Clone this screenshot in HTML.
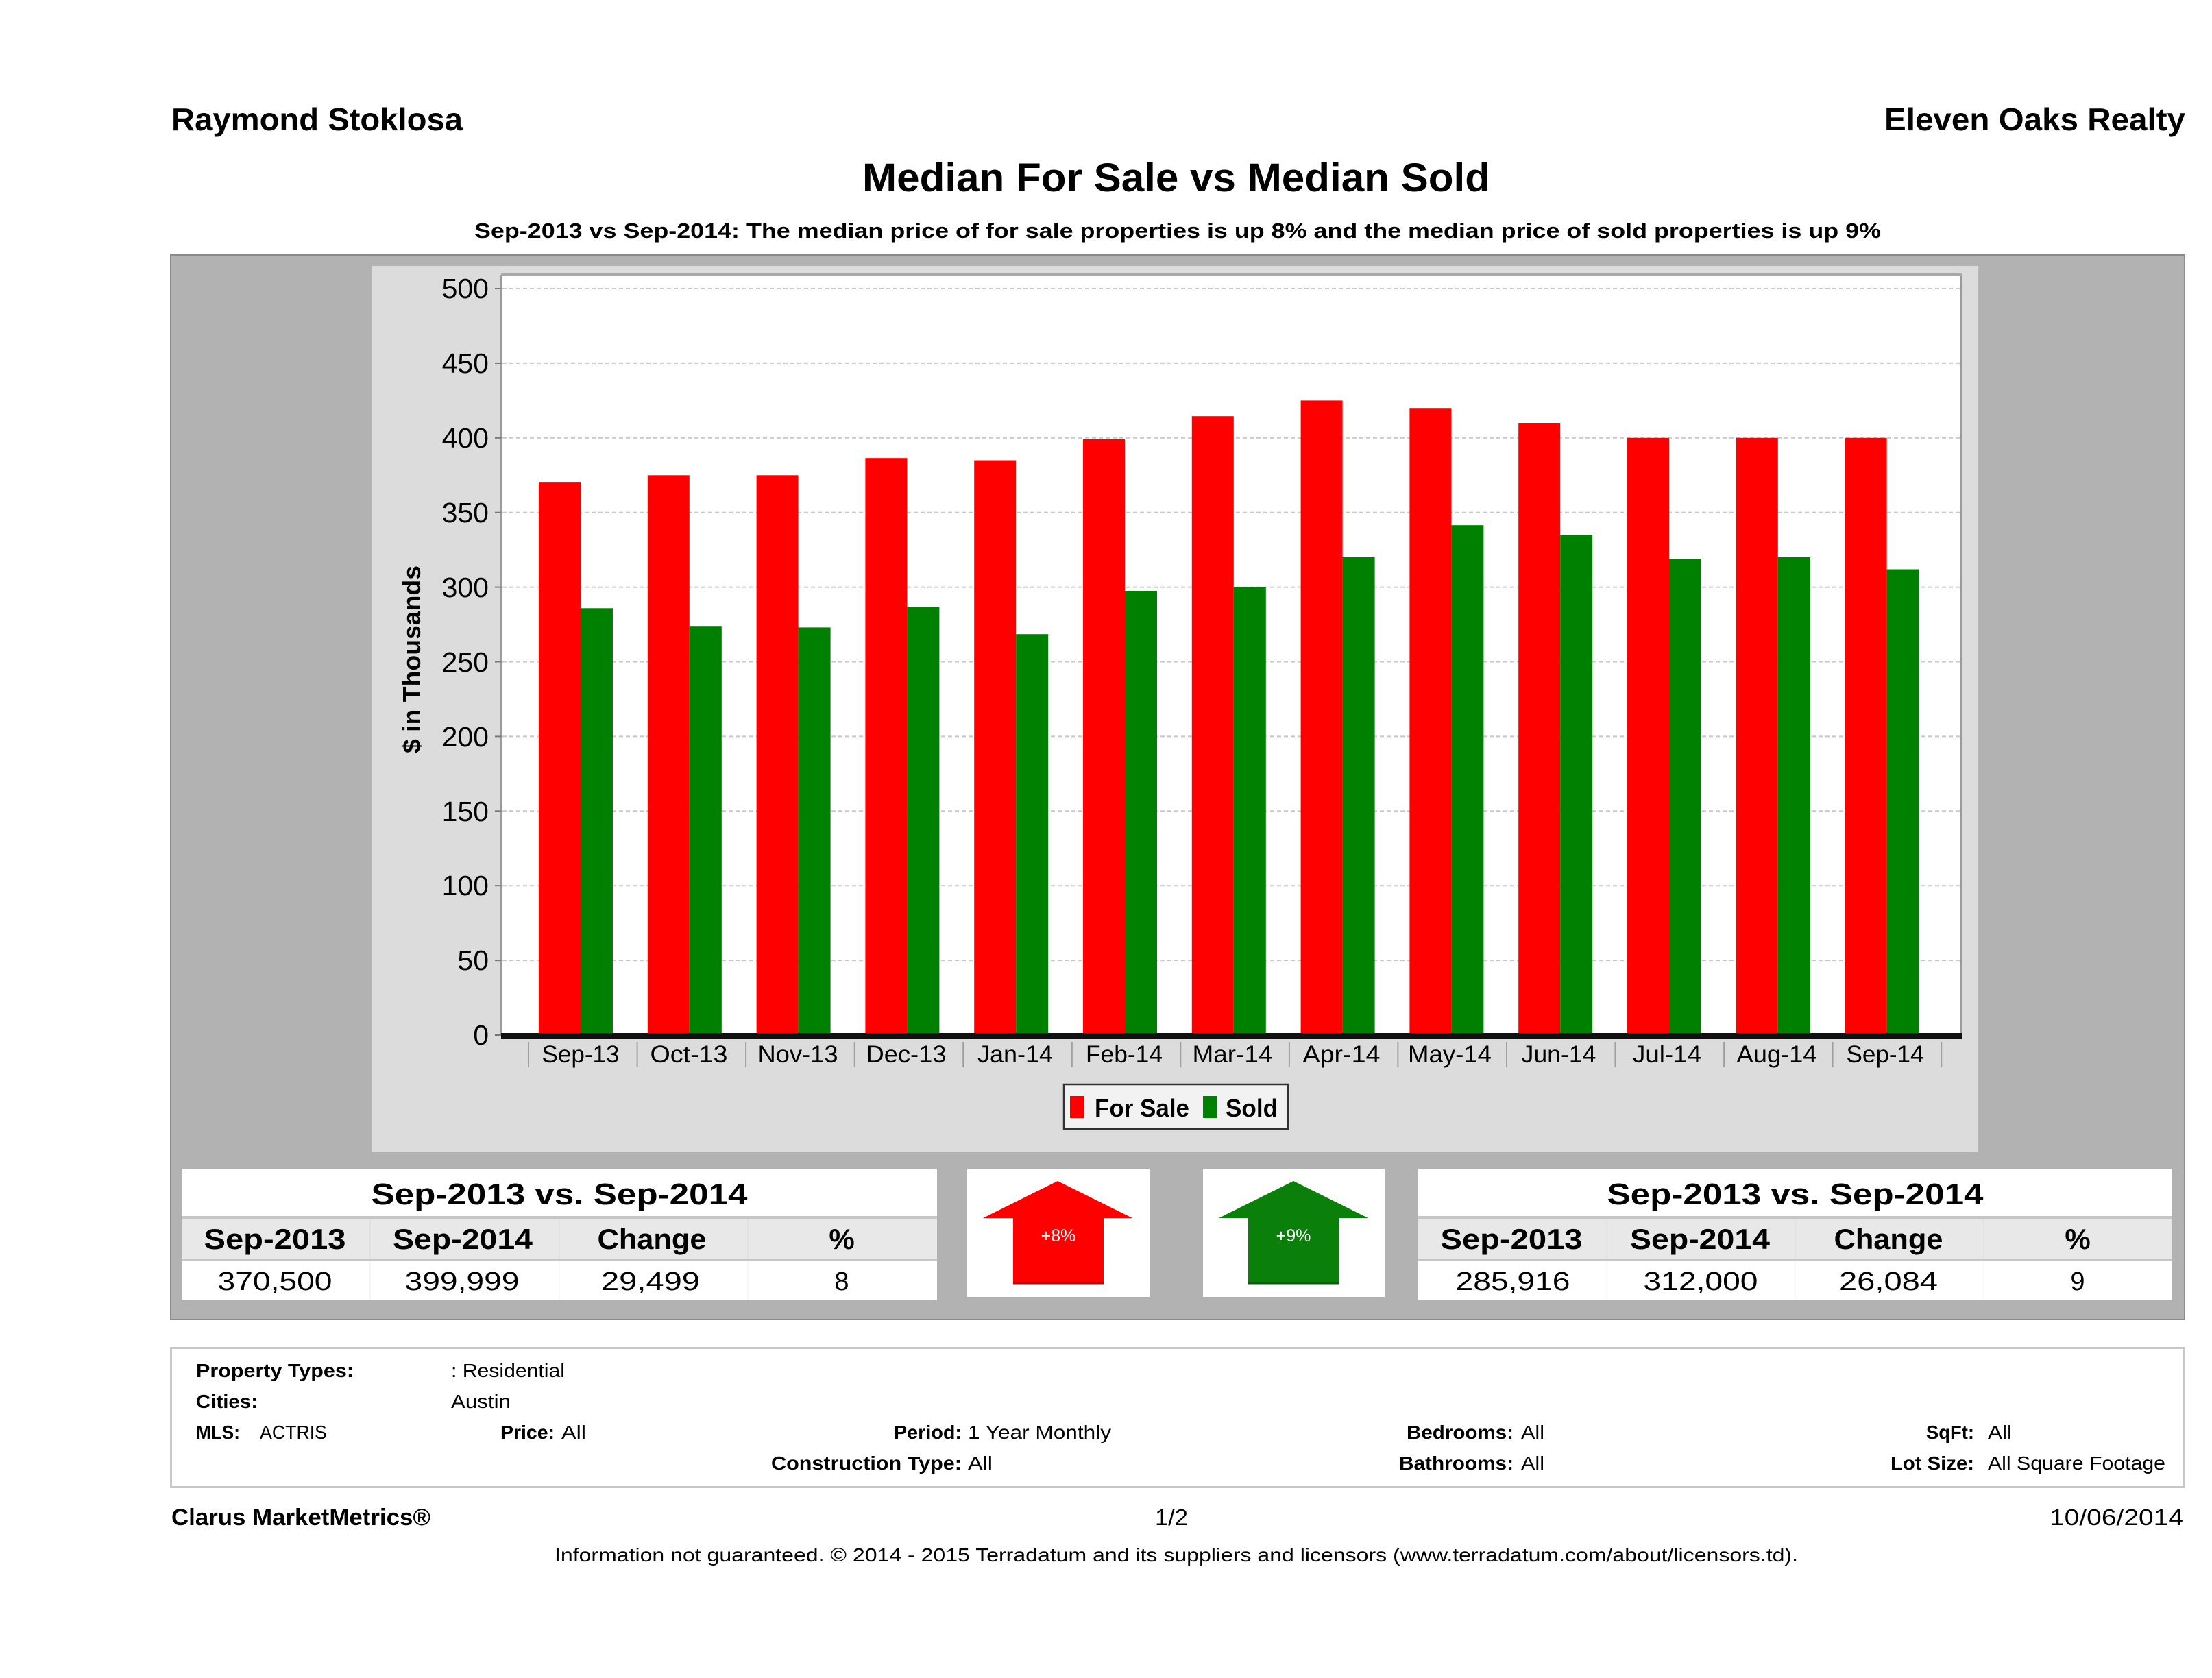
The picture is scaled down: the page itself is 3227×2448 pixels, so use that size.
<!DOCTYPE html>
<html>
<head>
<meta charset="utf-8">
<style>
html,body{margin:0;padding:0;background:#fff;}
svg{display:block;}
text{font-family:"Liberation Sans",Arial,sans-serif;fill:#000;}
.b{font-weight:bold;}
</style>
</head>
<body>
<svg width="3227" height="2448" viewBox="0 0 3227 2448" xmlns="http://www.w3.org/2000/svg">
<rect x="0" y="0" width="3227" height="2448" fill="#ffffff"/>

<!-- Header -->
<text class="b" x="250" y="190" font-size="46" textLength="425" lengthAdjust="spacingAndGlyphs">Raymond Stoklosa</text>
<text class="b" x="2749" y="190" font-size="46" textLength="439" lengthAdjust="spacingAndGlyphs">Eleven Oaks Realty</text>
<text class="b" x="1258" y="279" font-size="58" textLength="916" lengthAdjust="spacingAndGlyphs">Median For Sale vs Median Sold</text>
<text class="b" x="692" y="347" font-size="31" textLength="2052" lengthAdjust="spacingAndGlyphs">Sep-2013 vs Sep-2014: The median price of for sale properties is up 8% and the median price of sold properties is up 9%</text>

<!-- Outer gray panel -->
<rect x="249" y="372" width="2938" height="1553" fill="#b2b2b2" stroke="#8a8a8a" stroke-width="2"/>
<!-- Inner light panel -->
<rect x="543" y="388" width="2342" height="1293" fill="#dcdcdc"/>
<!-- Plot area -->
<rect x="731" y="402" width="2130" height="1108" fill="#ffffff" stroke="#9a9a9a" stroke-width="2"/>
<line x1="731" y1="401" x2="2862" y2="401" stroke="#a8a8a8" stroke-width="4"/>

<!-- Gridlines -->
<g stroke="#c8c8c8" stroke-width="2" stroke-dasharray="6 4">
<line x1="733" y1="421" x2="2859" y2="421"/>
<line x1="733" y1="529.9" x2="2859" y2="529.9"/>
<line x1="733" y1="638.8" x2="2859" y2="638.8"/>
<line x1="733" y1="747.7" x2="2859" y2="747.7"/>
<line x1="733" y1="856.6" x2="2859" y2="856.6"/>
<line x1="733" y1="965.5" x2="2859" y2="965.5"/>
<line x1="733" y1="1074.4" x2="2859" y2="1074.4"/>
<line x1="733" y1="1183.3" x2="2859" y2="1183.3"/>
<line x1="733" y1="1292.2" x2="2859" y2="1292.2"/>
<line x1="733" y1="1401.1" x2="2859" y2="1401.1"/>
</g>
<!-- Y ticks -->
<g stroke="#777" stroke-width="2">
<line x1="722" y1="421" x2="731" y2="421"/>
<line x1="722" y1="529.9" x2="731" y2="529.9"/>
<line x1="722" y1="638.8" x2="731" y2="638.8"/>
<line x1="722" y1="747.7" x2="731" y2="747.7"/>
<line x1="722" y1="856.6" x2="731" y2="856.6"/>
<line x1="722" y1="965.5" x2="731" y2="965.5"/>
<line x1="722" y1="1074.4" x2="731" y2="1074.4"/>
<line x1="722" y1="1183.3" x2="731" y2="1183.3"/>
<line x1="722" y1="1292.2" x2="731" y2="1292.2"/>
<line x1="722" y1="1401.1" x2="731" y2="1401.1"/>
<line x1="722" y1="1510" x2="731" y2="1510"/>
</g>
<!-- Y labels -->
<g font-size="41" text-anchor="end">
<text x="713" y="435">500</text>
<text x="713" y="544">450</text>
<text x="713" y="653">400</text>
<text x="713" y="762">350</text>
<text x="713" y="871">300</text>
<text x="713" y="980">250</text>
<text x="713" y="1089">200</text>
<text x="713" y="1198">150</text>
<text x="713" y="1306">100</text>
<text x="713" y="1415">50</text>
<text x="713" y="1524">0</text>
</g>
<!-- Y title -->
<text class="b" transform="translate(613,962) rotate(-90)" x="0" y="0" font-size="36" text-anchor="middle" textLength="274" lengthAdjust="spacingAndGlyphs">$ in Thousands</text>

<!-- Bars: For Sale (red) -->
<g fill="#ff0000">
<rect x="786" y="703.1" width="61" height="806.9"/>
<rect x="944.8" y="693.3" width="61" height="816.7"/>
<rect x="1103.6" y="693.3" width="61" height="816.7"/>
<rect x="1262.4" y="668.2" width="61" height="841.8"/>
<rect x="1421.2" y="671.5" width="61" height="838.5"/>
<rect x="1580" y="641.0" width="61" height="869"/>
<rect x="1738.8" y="607.2" width="61" height="902.8"/>
<rect x="1897.6" y="584.4" width="61" height="925.6"/>
<rect x="2056.4" y="595.2" width="61" height="914.8"/>
<rect x="2215.2" y="617.0" width="61" height="893"/>
<rect x="2374" y="638.8" width="61" height="871.2"/>
<rect x="2532.8" y="638.8" width="61" height="871.2"/>
<rect x="2691.6" y="638.8" width="61" height="871.2"/>
</g>
<!-- Bars: Sold (green) -->
<g fill="#008000">
<rect x="847" y="887.3" width="47" height="622.7"/>
<rect x="1005.8" y="913.2" width="47" height="596.8"/>
<rect x="1164.6" y="915.4" width="47" height="594.6"/>
<rect x="1323.4" y="886.0" width="47" height="624"/>
<rect x="1482.2" y="925.2" width="47" height="584.8"/>
<rect x="1641" y="862.0" width="47" height="648"/>
<rect x="1799.8" y="856.6" width="47" height="653.4"/>
<rect x="1958.6" y="813.0" width="47" height="697"/>
<rect x="2117.4" y="766.2" width="47" height="743.8"/>
<rect x="2276.2" y="780.4" width="47" height="729.6"/>
<rect x="2435" y="815.2" width="47" height="694.8"/>
<rect x="2593.8" y="813.0" width="47" height="697"/>
<rect x="2752.6" y="830.5" width="47" height="679.5"/>
</g>

<!-- X axis thick line -->
<rect x="731" y="1507" width="2131" height="9" fill="#111"/>
<!-- X tick separators -->
<g stroke="#a0a0a0" stroke-width="2">
<line x1="771" y1="1520" x2="771" y2="1557"/>
<line x1="929.6" y1="1520" x2="929.6" y2="1557"/>
<line x1="1088.1" y1="1520" x2="1088.1" y2="1557"/>
<line x1="1246.7" y1="1520" x2="1246.7" y2="1557"/>
<line x1="1405.2" y1="1520" x2="1405.2" y2="1557"/>
<line x1="1563.8" y1="1520" x2="1563.8" y2="1557"/>
<line x1="1722.3" y1="1520" x2="1722.3" y2="1557"/>
<line x1="1880.9" y1="1520" x2="1880.9" y2="1557"/>
<line x1="2039.4" y1="1520" x2="2039.4" y2="1557"/>
<line x1="2198" y1="1520" x2="2198" y2="1557"/>
<line x1="2356.5" y1="1520" x2="2356.5" y2="1557"/>
<line x1="2515.1" y1="1520" x2="2515.1" y2="1557"/>
<line x1="2673.6" y1="1520" x2="2673.6" y2="1557"/>
<line x1="2832.2" y1="1520" x2="2832.2" y2="1557"/>
</g>
<!-- X labels -->
<g font-size="35" text-anchor="middle">
<text x="847" y="1550" textLength="113" lengthAdjust="spacingAndGlyphs">Sep-13</text>
<text x="1005" y="1550" textLength="113" lengthAdjust="spacingAndGlyphs">Oct-13</text>
<text x="1164" y="1550" textLength="117" lengthAdjust="spacingAndGlyphs">Nov-13</text>
<text x="1322" y="1550" textLength="117" lengthAdjust="spacingAndGlyphs">Dec-13</text>
<text x="1481" y="1550" textLength="110" lengthAdjust="spacingAndGlyphs">Jan-14</text>
<text x="1640" y="1550" textLength="112" lengthAdjust="spacingAndGlyphs">Feb-14</text>
<text x="1798" y="1550" textLength="117" lengthAdjust="spacingAndGlyphs">Mar-14</text>
<text x="1957" y="1550" textLength="113" lengthAdjust="spacingAndGlyphs">Apr-14</text>
<text x="2115" y="1550" textLength="122" lengthAdjust="spacingAndGlyphs">May-14</text>
<text x="2274" y="1550" textLength="109" lengthAdjust="spacingAndGlyphs">Jun-14</text>
<text x="2432" y="1550" textLength="100" lengthAdjust="spacingAndGlyphs">Jul-14</text>
<text x="2592" y="1550" textLength="117" lengthAdjust="spacingAndGlyphs">Aug-14</text>
<text x="2750" y="1550" textLength="113" lengthAdjust="spacingAndGlyphs">Sep-14</text>
</g>

<!-- Legend -->
<rect x="1552" y="1582" width="327" height="65" fill="#f2f2f2" stroke="#333" stroke-width="2.5"/>
<rect x="1561" y="1599" width="20" height="32" fill="#ff0000"/>
<text class="b" x="1597" y="1629" font-size="36" textLength="138" lengthAdjust="spacingAndGlyphs">For Sale</text>
<rect x="1755" y="1599" width="21" height="32" fill="#008000"/>
<text class="b" x="1788" y="1629" font-size="36" textLength="76" lengthAdjust="spacingAndGlyphs">Sold</text>

<!-- Left stats table -->
<rect x="265" y="1705" width="1102" height="192" fill="#c6c6c6"/>
<rect x="265" y="1705" width="1102" height="69" fill="#ffffff"/>
<rect x="265" y="1778" width="1102" height="58" fill="#e8e8e8"/>
<rect x="265" y="1840" width="1102" height="57" fill="#ffffff"/>
<g stroke="#dadada" stroke-width="1">
<line x1="540" y1="1778" x2="540" y2="1836"/><line x1="816" y1="1778" x2="816" y2="1836"/><line x1="1091" y1="1778" x2="1091" y2="1836"/>
</g>
<g stroke="#f0f0f0" stroke-width="1">
<line x1="540" y1="1840" x2="540" y2="1897"/><line x1="816" y1="1840" x2="816" y2="1897"/><line x1="1091" y1="1840" x2="1091" y2="1897"/>
</g>
<text class="b" x="816" y="1757" font-size="44" text-anchor="middle" textLength="549" lengthAdjust="spacingAndGlyphs">Sep-2013 vs. Sep-2014</text>
<g class="b" font-size="42" text-anchor="middle" font-weight="bold">
<text x="401" y="1822" textLength="207" lengthAdjust="spacingAndGlyphs">Sep-2013</text>
<text x="675" y="1822" textLength="204" lengthAdjust="spacingAndGlyphs">Sep-2014</text>
<text x="951" y="1822" textLength="159" lengthAdjust="spacingAndGlyphs">Change</text>
<text x="1228" y="1822">%</text>
</g>
<g font-size="38" text-anchor="middle">
<text x="401" y="1882" textLength="167" lengthAdjust="spacingAndGlyphs">370,500</text>
<text x="674" y="1882" textLength="167" lengthAdjust="spacingAndGlyphs">399,999</text>
<text x="949" y="1882" textLength="144" lengthAdjust="spacingAndGlyphs">29,499</text>
<text x="1228" y="1882">8</text>
</g>

<!-- Arrow boxes -->
<rect x="1411" y="1705" width="266" height="187" fill="#ffffff"/>
<polygon points="1543,1723 1652,1777 1610,1777 1610,1873 1478,1873 1478,1777 1434,1777" fill="#ff0000"/>
<line x1="1478" y1="1872" x2="1610" y2="1872" stroke="#c00000" stroke-width="3"/>
<text x="1544" y="1811" font-size="25" fill="#ffffff" text-anchor="middle" style="fill:#ffffff">+8%</text>

<rect x="1755" y="1705" width="265" height="187" fill="#ffffff"/>
<polygon points="1887,1723 1996,1777 1953,1777 1953,1873 1821,1873 1821,1777 1778,1777" fill="#0a800a"/>
<line x1="1821" y1="1872" x2="1953" y2="1872" stroke="#056005" stroke-width="3"/>
<text x="1887" y="1811" font-size="25" text-anchor="middle" style="fill:#ffffff">+9%</text>

<!-- Right stats table -->
<rect x="2069" y="1705" width="1100" height="192" fill="#c6c6c6"/>
<rect x="2069" y="1705" width="1100" height="69" fill="#ffffff"/>
<rect x="2069" y="1778" width="1100" height="58" fill="#e8e8e8"/>
<rect x="2069" y="1840" width="1100" height="57" fill="#ffffff"/>
<g stroke="#dadada" stroke-width="1">
<line x1="2344" y1="1778" x2="2344" y2="1836"/><line x1="2619" y1="1778" x2="2619" y2="1836"/><line x1="2894" y1="1778" x2="2894" y2="1836"/>
</g>
<g stroke="#f0f0f0" stroke-width="1">
<line x1="2344" y1="1840" x2="2344" y2="1897"/><line x1="2619" y1="1840" x2="2619" y2="1897"/><line x1="2894" y1="1840" x2="2894" y2="1897"/>
</g>
<text class="b" x="2619" y="1757" font-size="44" text-anchor="middle" textLength="549" lengthAdjust="spacingAndGlyphs">Sep-2013 vs. Sep-2014</text>
<g class="b" font-size="42" text-anchor="middle" font-weight="bold">
<text x="2205" y="1822" textLength="207" lengthAdjust="spacingAndGlyphs">Sep-2013</text>
<text x="2480" y="1822" textLength="204" lengthAdjust="spacingAndGlyphs">Sep-2014</text>
<text x="2755" y="1822" textLength="159" lengthAdjust="spacingAndGlyphs">Change</text>
<text x="3031" y="1822">%</text>
</g>
<g font-size="38" text-anchor="middle">
<text x="2207" y="1882" textLength="167" lengthAdjust="spacingAndGlyphs">285,916</text>
<text x="2481" y="1882" textLength="167" lengthAdjust="spacingAndGlyphs">312,000</text>
<text x="2755" y="1882" textLength="144" lengthAdjust="spacingAndGlyphs">26,084</text>
<text x="3031" y="1882">9</text>
</g>

<!-- Info box -->
<rect x="249.5" y="1966.5" width="2937" height="203" fill="#ffffff" stroke="#c8c8c8" stroke-width="3"/>
<g font-size="28">
<text class="b" x="286" y="2009" textLength="230" lengthAdjust="spacingAndGlyphs">Property Types:</text>
<text x="658" y="2009" textLength="166" lengthAdjust="spacingAndGlyphs">: Residential</text>
<text class="b" x="286" y="2054" textLength="90" lengthAdjust="spacingAndGlyphs">Cities:</text>
<text x="658" y="2054" textLength="87" lengthAdjust="spacingAndGlyphs">Austin</text>
<text class="b" x="286" y="2099" textLength="64" lengthAdjust="spacingAndGlyphs">MLS:</text>
<text x="379" y="2099" textLength="98" lengthAdjust="spacingAndGlyphs">ACTRIS</text>
<text class="b" x="730" y="2099" textLength="79" lengthAdjust="spacingAndGlyphs">Price:</text>
<text x="819" y="2099" textLength="36" lengthAdjust="spacingAndGlyphs">All</text>
<text class="b" x="1304" y="2099" textLength="99" lengthAdjust="spacingAndGlyphs">Period:</text>
<text x="1412" y="2099" textLength="209" lengthAdjust="spacingAndGlyphs">1 Year Monthly</text>
<text class="b" x="2052" y="2099" textLength="156" lengthAdjust="spacingAndGlyphs">Bedrooms:</text>
<text x="2219" y="2099" textLength="34" lengthAdjust="spacingAndGlyphs">All</text>
<text class="b" x="2810" y="2099" textLength="70" lengthAdjust="spacingAndGlyphs">SqFt:</text>
<text x="2900" y="2099" textLength="35" lengthAdjust="spacingAndGlyphs">All</text>
<text class="b" x="1125" y="2144" textLength="278" lengthAdjust="spacingAndGlyphs">Construction Type:</text>
<text x="1412" y="2144" textLength="36" lengthAdjust="spacingAndGlyphs">All</text>
<text class="b" x="2041" y="2144" textLength="167" lengthAdjust="spacingAndGlyphs">Bathrooms:</text>
<text x="2219" y="2144" textLength="34" lengthAdjust="spacingAndGlyphs">All</text>
<text class="b" x="2758" y="2144" textLength="122" lengthAdjust="spacingAndGlyphs">Lot Size:</text>
<text x="2900" y="2144" textLength="259" lengthAdjust="spacingAndGlyphs">All Square Footage</text>
</g>

<!-- Footer -->
<text class="b" x="250" y="2225" font-size="34" textLength="378" lengthAdjust="spacingAndGlyphs">Clarus MarketMetrics®</text>
<text x="1685" y="2225" font-size="33" textLength="48" lengthAdjust="spacingAndGlyphs">1/2</text>
<text x="2990" y="2225" font-size="33" textLength="195" lengthAdjust="spacingAndGlyphs">10/06/2014</text>
<text x="809" y="2278" font-size="28" textLength="1814" lengthAdjust="spacingAndGlyphs">Information not guaranteed. © 2014 - 2015 Terradatum and its suppliers and licensors (www.terradatum.com/about/licensors.td).</text>
</svg>
</body>
</html>
